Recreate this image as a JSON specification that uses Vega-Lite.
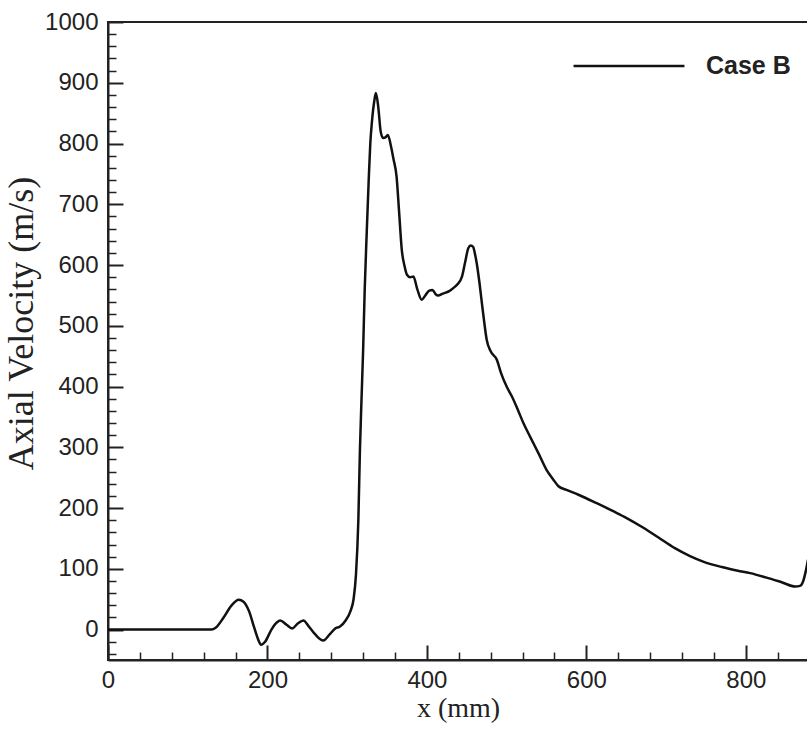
{
  "$schema": "https://vega.github.io/schema/vega-lite/v6.json",
  "autosize": "none",
  "width": 700,
  "height": 638,
  "padding": {"left": 108, "top": 22, "right": 0, "bottom": 71},
  "background": "white",
  "config": {
    "view": {"stroke": "#222", "strokeWidth": 2},
    "axis": {
      "labelFont": "Liberation Sans",
      "labelFontSize": 24,
      "labelColor": "#222",
      "domainColor": "#222",
      "domainWidth": 2,
      "tickColor": "#222",
      "grid": false,
      "titleFont": "Liberation Serif",
      "titleFontWeight": "normal",
      "titleColor": "#222"
    }
  },
  "data": {
    "values": [
      {"x": 0, "y": 0, "series": "Case B"},
      {"x": 130, "y": 0, "series": "Case B"},
      {"x": 135, "y": 3, "series": "Case B"},
      {"x": 145, "y": 20, "series": "Case B"},
      {"x": 155, "y": 40, "series": "Case B"},
      {"x": 164, "y": 49, "series": "Case B"},
      {"x": 170, "y": 46, "series": "Case B"},
      {"x": 177, "y": 30, "series": "Case B"},
      {"x": 183, "y": 5, "series": "Case B"},
      {"x": 188, "y": -15, "series": "Case B"},
      {"x": 192, "y": -25, "series": "Case B"},
      {"x": 197, "y": -20, "series": "Case B"},
      {"x": 205, "y": 0, "series": "Case B"},
      {"x": 212, "y": 12, "series": "Case B"},
      {"x": 216, "y": 15, "series": "Case B"},
      {"x": 224, "y": 8, "series": "Case B"},
      {"x": 231, "y": 2, "series": "Case B"},
      {"x": 238, "y": 10, "series": "Case B"},
      {"x": 245, "y": 15, "series": "Case B"},
      {"x": 252, "y": 5, "series": "Case B"},
      {"x": 260, "y": -8, "series": "Case B"},
      {"x": 270, "y": -18, "series": "Case B"},
      {"x": 278, "y": -8, "series": "Case B"},
      {"x": 285, "y": 2, "series": "Case B"},
      {"x": 291, "y": 5, "series": "Case B"},
      {"x": 298, "y": 15, "series": "Case B"},
      {"x": 304, "y": 30, "series": "Case B"},
      {"x": 308, "y": 50, "series": "Case B"},
      {"x": 311, "y": 90, "series": "Case B"},
      {"x": 314, "y": 180, "series": "Case B"},
      {"x": 316, "y": 296, "series": "Case B"},
      {"x": 318, "y": 380, "series": "Case B"},
      {"x": 320, "y": 460, "series": "Case B"},
      {"x": 322, "y": 560, "series": "Case B"},
      {"x": 324.5, "y": 653, "series": "Case B"},
      {"x": 327, "y": 740, "series": "Case B"},
      {"x": 329, "y": 800, "series": "Case B"},
      {"x": 331, "y": 835, "series": "Case B"},
      {"x": 334, "y": 870, "series": "Case B"},
      {"x": 336, "y": 883, "series": "Case B"},
      {"x": 339, "y": 860, "series": "Case B"},
      {"x": 342, "y": 820, "series": "Case B"},
      {"x": 345, "y": 809, "series": "Case B"},
      {"x": 348, "y": 810, "series": "Case B"},
      {"x": 351, "y": 814, "series": "Case B"},
      {"x": 355, "y": 795, "series": "Case B"},
      {"x": 358, "y": 775, "series": "Case B"},
      {"x": 362, "y": 745, "series": "Case B"},
      {"x": 365, "y": 690, "series": "Case B"},
      {"x": 368.5, "y": 625, "series": "Case B"},
      {"x": 372, "y": 598, "series": "Case B"},
      {"x": 375, "y": 584, "series": "Case B"},
      {"x": 379, "y": 580, "series": "Case B"},
      {"x": 383, "y": 581, "series": "Case B"},
      {"x": 388, "y": 560, "series": "Case B"},
      {"x": 393.5, "y": 543, "series": "Case B"},
      {"x": 398, "y": 550, "series": "Case B"},
      {"x": 403, "y": 558, "series": "Case B"},
      {"x": 407, "y": 559, "series": "Case B"},
      {"x": 411, "y": 552, "series": "Case B"},
      {"x": 414, "y": 550, "series": "Case B"},
      {"x": 420, "y": 553, "series": "Case B"},
      {"x": 428, "y": 557, "series": "Case B"},
      {"x": 433, "y": 562, "series": "Case B"},
      {"x": 438, "y": 568, "series": "Case B"},
      {"x": 444, "y": 581, "series": "Case B"},
      {"x": 448, "y": 605, "series": "Case B"},
      {"x": 452, "y": 628, "series": "Case B"},
      {"x": 455, "y": 632, "series": "Case B"},
      {"x": 458, "y": 630, "series": "Case B"},
      {"x": 460, "y": 620, "series": "Case B"},
      {"x": 462.5, "y": 603, "series": "Case B"},
      {"x": 466, "y": 570, "series": "Case B"},
      {"x": 469, "y": 537, "series": "Case B"},
      {"x": 472, "y": 505, "series": "Case B"},
      {"x": 475, "y": 477, "series": "Case B"},
      {"x": 480, "y": 458, "series": "Case B"},
      {"x": 487.7, "y": 444, "series": "Case B"},
      {"x": 493, "y": 422, "series": "Case B"},
      {"x": 500, "y": 400, "series": "Case B"},
      {"x": 506.5, "y": 384, "series": "Case B"},
      {"x": 514, "y": 362, "series": "Case B"},
      {"x": 521, "y": 340, "series": "Case B"},
      {"x": 530, "y": 316, "series": "Case B"},
      {"x": 540, "y": 290, "series": "Case B"},
      {"x": 550, "y": 263, "series": "Case B"},
      {"x": 558, "y": 248, "series": "Case B"},
      {"x": 565, "y": 236, "series": "Case B"},
      {"x": 575, "y": 230, "series": "Case B"},
      {"x": 590, "y": 222, "series": "Case B"},
      {"x": 613, "y": 208, "series": "Case B"},
      {"x": 635, "y": 194, "series": "Case B"},
      {"x": 650, "y": 184, "series": "Case B"},
      {"x": 671, "y": 168, "series": "Case B"},
      {"x": 690, "y": 152, "series": "Case B"},
      {"x": 711, "y": 134, "series": "Case B"},
      {"x": 730, "y": 121, "series": "Case B"},
      {"x": 746.5, "y": 112, "series": "Case B"},
      {"x": 770, "y": 103, "series": "Case B"},
      {"x": 790, "y": 97, "series": "Case B"},
      {"x": 805.5, "y": 93, "series": "Case B"},
      {"x": 825, "y": 86, "series": "Case B"},
      {"x": 845, "y": 78, "series": "Case B"},
      {"x": 862, "y": 71, "series": "Case B"},
      {"x": 868, "y": 72, "series": "Case B"},
      {"x": 872, "y": 80, "series": "Case B"},
      {"x": 875, "y": 95, "series": "Case B"},
      {"x": 878, "y": 115, "series": "Case B"}
    ]
  },
  "resolve": {"axis": {"x": "independent", "y": "independent"}},
  "layer": [
    {
      "mark": {"type": "line", "opacity": 0},
      "encoding": {
        "x": {
          "field": "x",
          "type": "quantitative",
          "scale": {"domain": [0, 878], "nice": false, "zero": false},
          "axis": {
            "orient": "bottom",
            "title": null,
            "labels": false,
            "domain": false,
            "values": [40, 80, 120, 160, 240, 280, 320, 360, 440, 480, 520, 560, 640, 680, 720, 760, 840],
            "tickSize": -8,
            "tickWidth": 1.5
          }
        },
        "y": {
          "field": "y",
          "type": "quantitative",
          "scale": {"domain": [-50, 1000], "nice": false, "zero": false},
          "axis": {
            "orient": "left",
            "title": null,
            "labels": false,
            "domain": false,
            "values": [-40, -20, 20, 40, 60, 80, 120, 140, 160, 180, 220, 240, 260, 280, 320, 340, 360, 380, 420, 440, 460, 480, 520, 540, 560, 580, 620, 640, 660, 680, 720, 740, 760, 780, 820, 840, 860, 880, 920, 940, 960, 980],
            "tickSize": -8,
            "tickWidth": 1.5
          }
        }
      }
    },
    {
      "mark": {"type": "line", "strokeWidth": 2.5, "interpolate": "monotone", "clip": true},
      "encoding": {
        "x": {
          "field": "x",
          "type": "quantitative",
          "scale": {"domain": [0, 878], "nice": false, "zero": false},
          "axis": {
            "orient": "bottom",
            "title": "x (mm)",
            "titleFontSize": 28,
            "titlePadding": 2,
            "format": "d",
            "values": [0, 200, 400, 600, 800],
            "tickSize": -15,
            "tickWidth": 2,
            "labelPadding": 23,
            "labelFlush": false,
            "labelOverlap": false
          }
        },
        "y": {
          "field": "y",
          "type": "quantitative",
          "scale": {"domain": [-50, 1000], "nice": false, "zero": false},
          "axis": {
            "orient": "left",
            "title": "Axial Velocity (m/s)",
            "titleFontSize": 36,
            "titlePadding": 4,
            "titleY": 301,
            "format": "d",
            "values": [0, 100, 200, 300, 400, 500, 600, 700, 800, 900, 1000],
            "tickSize": -15,
            "tickWidth": 2,
            "labelPadding": 25,
            "labelFlush": false,
            "labelOverlap": false
          }
        },
        "color": {
          "field": "series",
          "type": "nominal",
          "scale": {"range": ["#111"]},
          "legend": {
            "title": null,
            "orient": "none",
            "legendX": 464,
            "legendY": -13,
            "symbolType": "stroke",
            "symbolSize": 12300,
            "symbolStrokeWidth": 2.5,
            "labelFont": "Liberation Sans",
            "labelFontWeight": "bold",
            "labelFontSize": 25,
            "labelColor": "#222",
            "labelOffset": 20
          }
        }
      }
    }
  ]
}
